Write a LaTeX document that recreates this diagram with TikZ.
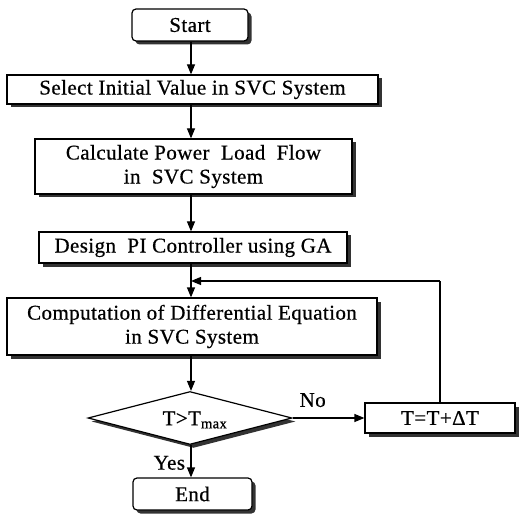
\documentclass[tikz,border=0pt]{standalone}
\usepackage{fontspec}
\setmainfont{Liberation Serif}[FakeBold=0.6,LetterSpace=2]
\usetikzlibrary{shapes.geometric,shadows,arrows.meta}
\begin{document}
\begin{tikzpicture}[x=1pt,y=-1pt,
  font=\fontsize{21}{24}\selectfont,
  boxshadow/.style={drop shadow={shadow xshift=3.5pt,shadow yshift=-3.5pt,fill=black!80,opacity=1}},
  procbox/.style={draw,line width=1.2pt,fill=white,boxshadow,inner sep=0pt,align=center},
  termbox/.style={procbox,rounded corners=4pt},
  decbox/.style={draw,line width=1.2pt,fill=white,diamond,aspect=3.85,inner sep=0pt,
    minimum width=204pt,minimum height=53pt,boxshadow},
  flow/.style={line width=1.2pt,-{Triangle[length=10pt,width=8pt]}},
  link/.style={line width=1.2pt}]
\useasboundingbox (0,0) rectangle (520,516);
\fill[white] (0,0) rectangle (520,516);

% process steps
\node[termbox,minimum width=116pt,minimum height=32pt] (start) at (190,25) {Start};
\node[procbox,minimum width=371pt,minimum height=29pt] (sel) at (192.5,89.5) {Select Initial Value in SVC System};
\node[procbox,minimum width=317pt,minimum height=55pt] (calc) at (193.5,166.5)
  {Calculate Power\ \ Load\ \ Flow\\in\ \ SVC System};
\node[procbox,minimum width=308pt,minimum height=31pt] (pi) at (193,247.5) {Design\ \ PI Controller using GA};
\node[procbox,minimum width=370pt,minimum height=57pt] (comp) at (192,326.5)
  {Computation of Differential Equation\\in SVC System};
\node[decbox] (dec) at (190,418) {};
\node at (195,420) {T>T\textsubscript{max}};
\node[procbox,minimum width=150pt,minimum height=30pt] (inc) at (440,418) {T=T+ΔT};
\node[termbox,minimum width=119pt,minimum height=32pt] (end) at (192.5,494) {End};

% connectors
\coordinate (j1) at (191,281);
\draw[flow] (start.south -| j1) -- (sel.north -| j1);
\draw[flow] (sel.south -| j1) -- (calc.north -| j1);
\draw[flow] (calc.south -| j1) -- (pi.north -| j1);
\draw[flow] (pi.south -| j1) -- (comp.north -| j1);
\draw[flow] (comp.south -| j1) -- (dec.north -| j1);
\draw[flow] (dec.east) -- (inc.west) node[pos=0.28,above=7pt] {No};
\draw[flow] (dec.south -| j1) -- (end.north -| j1) node[pos=0.55,left=2pt] {Yes};
\draw[link] (inc.north) -- (inc.north |- j1) coordinate (k);
\draw[flow] (k) -- (j1);
\end{tikzpicture}
\end{document}
